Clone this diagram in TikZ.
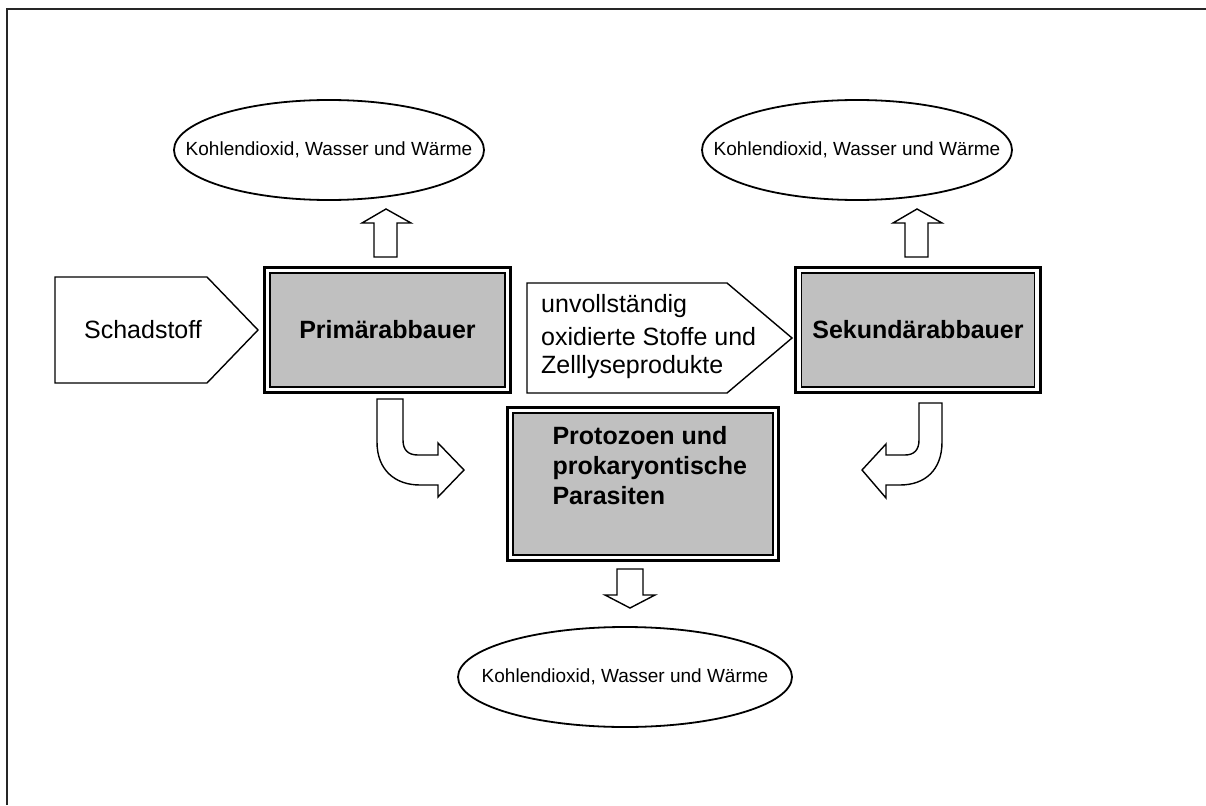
\documentclass[tikz,border=0pt]{standalone}
\usepackage{fontspec}
\setmainfont{Liberation Sans}
\usetikzlibrary{shapes.geometric}
\definecolor{boxgray}{HTML}{C0C0C0}
\begin{document}
\begin{tikzpicture}[x=1pt,y=-1pt,
  ell/.style={draw, line width=1.8pt, ellipse, minimum width=310pt, minimum height=100pt, inner sep=0pt, font=\fontsize{19}{24}\selectfont},
  dbox/.style={draw, fill=boxgray, line width=1.4pt, inner sep=0pt, font=\fontsize{25}{30}\selectfont\bfseries},
  btext/.style={inner sep=0pt, align=left, font=\fontsize{25}{30}\selectfont\bfseries},
  outerfr/.style={draw, line width=2.8pt},
  penta/.style={draw, line width=1.4pt, fill=white},
  barrow/.style={draw, line width=1.4pt, fill=white, line join=miter},
  ptext/.style={font=\fontsize{25}{30}\selectfont, inner sep=0pt}
]
\useasboundingbox (0,0) rectangle (1206,805);
% frame
\draw[line width=2pt, draw=black!85] (7,805) -- (7,9) -- (1206,9);

% ellipses
\node[ell] (e1) at (329,150) {\makebox[0pt]{Kohlendioxid, Wasser und Wärme}};
\node[ell] (e2) at (857,150) {\makebox[0pt]{Kohlendioxid, Wasser und Wärme}};
\node[ell, minimum width=334pt] (e3) at (625,677) {\makebox[0pt]{Kohlendioxid, Wasser und Wärme}};

% double boxes
\node[dbox, minimum width=235pt, minimum height=114pt] (pa) at (387.5,330) {Primärabbauer};
\draw[outerfr] ([xshift=-5pt,yshift=5pt]pa.north west) rectangle ([xshift=5pt,yshift=-5pt]pa.south east);
\node[dbox, minimum width=233pt, minimum height=114pt] (sa) at (918,330) {Sekundärabbauer};
\draw[outerfr] ([xshift=-5pt,yshift=5pt]sa.north west) rectangle ([xshift=5pt,yshift=-5pt]sa.south east);
\node[dbox, minimum width=260pt, minimum height=142pt] (pzbox) at (643,484) {};
\draw[outerfr] ([xshift=-5pt,yshift=5pt]pzbox.north west) rectangle ([xshift=5pt,yshift=-5pt]pzbox.south east);
\node[btext, anchor=north west] (pz) at ([xshift=40pt,yshift=-14pt]pzbox.north west) {Protozoen und\\prokaryontische\\Parasiten};

% pentagons
\draw[penta] (55,277) -- (207,277) -- (258,330) -- (207,383) -- (55,383) -- cycle;
\node[ptext] (st) at (143,330) {Schadstoff};
\draw[penta] (527,283) -- (727,283) -- (792,338) -- (727,393) -- (527,393) -- cycle;
\node[ptext, anchor=west] (u1) at (541,306) {unvollständig};
\node[ptext, anchor=west] (u2) at (541,337) {oxidierte Stoffe und};
\node[ptext, anchor=west] (u3) at (541,367) {Zelllyseprodukte};

% up arrows
\draw[barrow] (374,257) -- (374,223) -- (362,223) -- (386,209) -- (411,223) -- (397,223) -- (397,257) -- cycle;
\draw[barrow] (905,257) -- (905,223) -- (893,223) -- (917,209) -- (942,223) -- (928,223) -- (928,257) -- cycle;

% bent arrows
\draw[barrow] (377,399) -- (403,399) -- (403,440) .. controls (403,450) and (408,455) .. (418,455) -- (438,455) -- (438,443) -- (464,470) -- (438,497) -- (438,485) -- (420,485) .. controls (395,485) and (377,470) .. (377,442) -- cycle;
\draw[barrow] (942,403) -- (919,403) -- (919,440) .. controls (919,450) and (914,455) .. (905,455) -- (886,455) -- (886,444) -- (862,470) -- (886,498) -- (886,485) -- (900,485) .. controls (925,485) and (942,470) .. (942,442) -- cycle;

% down arrow
\draw[barrow] (617,569) -- (643,569) -- (643,595) -- (655,595) -- (630,608) -- (605,595) -- (617,595) -- cycle;
\end{tikzpicture}
\end{document}
